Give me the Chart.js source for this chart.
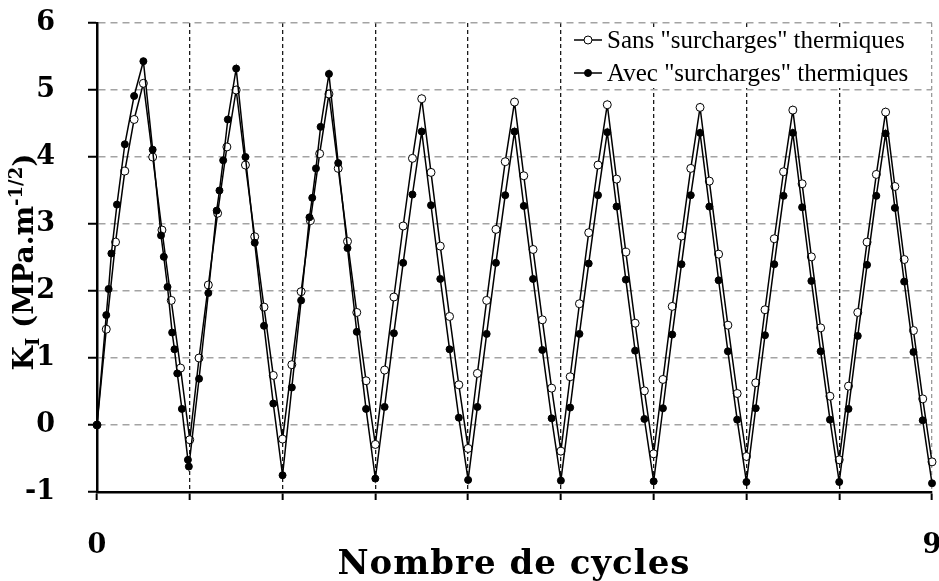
<!DOCTYPE html>
<html>
<head>
<meta charset="utf-8">
<script src="https://cdn.jsdelivr.net/npm/chart.js@4.4.1/dist/chart.umd.min.js"></script>
<style>
  html, body { margin: 0; padding: 0; background: #fff; }
</style>
</head>
<body>
<canvas id="chart" width="939" height="581"></canvas>
<script>
// Sans "surcharges" thermiques (open circles)
const sansX = [
  0, 0.1, 0.2, 0.3, 0.4, 0.5, 0.6, 0.7, 0.8, 0.9,
  1.0, 1.1, 1.2, 1.3, 1.4, 1.5, 1.6, 1.7, 1.8, 1.9,
  2.0, 2.1, 2.2, 2.3, 2.4, 2.5, 2.6, 2.7, 2.8, 2.9,
  3.0, 3.1, 3.2, 3.3, 3.4, 3.5, 3.6, 3.7, 3.8, 3.9,
  4.0, 4.1, 4.2, 4.3, 4.4, 4.5, 4.6, 4.7, 4.8, 4.9,
  5.0, 5.1, 5.2, 5.3, 5.4, 5.5, 5.6, 5.7, 5.8, 5.9,
  6.0, 6.1, 6.2, 6.3, 6.4, 6.5, 6.6, 6.7, 6.8, 6.9,
  7.0, 7.1, 7.2, 7.3, 7.4, 7.5, 7.6, 7.7, 7.8, 7.9,
  8.0, 8.1, 8.2, 8.3, 8.4, 8.5, 8.6, 8.7, 8.8, 8.9,
  9.0
];
const sansY = [
  0, 1.43, 2.73, 3.79, 4.56, 5.10, 4.00, 2.91, 1.86, 0.85,
  -0.22, 1.00, 2.09, 3.16, 4.15, 5.00, 3.88, 2.81, 1.76, 0.74,
  -0.21, 0.90, 1.99, 3.05, 4.05, 4.94, 3.83, 2.74, 1.68, 0.66,
  -0.29, 0.82, 1.91, 2.97, 3.98, 4.87, 3.77, 2.67, 1.62, 0.60,
  -0.35, 0.77, 1.86, 2.92, 3.93, 4.82, 3.72, 2.62, 1.57, 0.55,
  -0.39, 0.72, 1.81, 2.87, 3.88, 4.78, 3.67, 2.58, 1.52, 0.51,
  -0.43, 0.68, 1.77, 2.82, 3.83, 4.74, 3.64, 2.55, 1.49, 0.47,
  -0.47, 0.63, 1.72, 2.78, 3.78, 4.70, 3.60, 2.51, 1.45, 0.43,
  -0.52, 0.58, 1.68, 2.73, 3.74, 4.67, 3.56, 2.47, 1.41, 0.39,
  -0.55
];

// Avec "surcharges" thermiques (filled circles)
const avecX = [
  0, 0.1, 0.125, 0.155, 0.215, 0.3, 0.4, 0.5, 0.6, 0.69,
  0.72, 0.76, 0.81, 0.835, 0.865, 0.915, 0.98, 0.99,
  1.1, 1.2, 1.29, 1.32, 1.36, 1.41, 1.5, 1.6, 1.7, 1.8, 1.9, 2.0,
  2.1, 2.2, 2.29, 2.32, 2.36, 2.41, 2.5, 2.6, 2.7, 2.8, 2.9, 3.0,
  3.1, 3.2, 3.3, 3.4, 3.5, 3.6, 3.7, 3.8, 3.9, 4.0,
  4.1, 4.2, 4.3, 4.4, 4.5, 4.6, 4.7, 4.8, 4.9, 5.0,
  5.1, 5.2, 5.3, 5.4, 5.5, 5.6, 5.7, 5.8, 5.9, 6.0,
  6.1, 6.2, 6.3, 6.4, 6.5, 6.6, 6.7, 6.8, 6.9, 7.0,
  7.1, 7.2, 7.3, 7.4, 7.5, 7.6, 7.7, 7.8, 7.9, 8.0,
  8.1, 8.2, 8.3, 8.4, 8.5, 8.6, 8.7, 8.8, 8.9, 9.0
];
const avecY = [
  0, 1.64, 2.03, 2.56, 3.29, 4.19, 4.91, 5.43, 4.11, 2.83,
  2.51, 2.06, 1.38, 1.13, 0.77, 0.24, -0.52, -0.62,
  0.69, 1.97, 3.20, 3.50, 3.95, 4.56, 5.32, 4.00, 2.72, 1.48, 0.32, -0.75,
  0.56, 1.86, 3.10, 3.39, 3.83, 4.45, 5.24, 3.91, 2.64, 1.39, 0.24, -0.80,
  0.27, 1.37, 2.42, 3.44, 4.38, 3.28, 2.18, 1.13, 0.11, -0.82,
  0.27, 1.36, 2.42, 3.43, 4.38, 3.27, 2.18, 1.12, 0.10, -0.83,
  0.26, 1.36, 2.41, 3.43, 4.37, 3.26, 2.17, 1.11, 0.09, -0.84,
  0.25, 1.35, 2.40, 3.43, 4.36, 3.26, 2.16, 1.10, 0.08, -0.85,
  0.25, 1.34, 2.40, 3.42, 4.36, 3.25, 2.15, 1.10, 0.08, -0.85,
  0.24, 1.33, 2.39, 3.42, 4.35, 3.24, 2.14, 1.09, 0.07, -0.87
];

const seriesNames = ['Sans "surcharges" thermiques', 'Avec "surcharges" thermiques'];
const xTickLabels = [0, 9];
const xTitle = 'Nombre de cycles';

const toPoints = (xs, ys) => xs.map((x, i) => ({ x: x, y: ys[i] }));

// legend, axis titles (the y title needs sub/superscripts)
const decor = {
  id: 'decor',
  afterDraw(chart) {
    const ctx = chart.ctx;
    ctx.save();

    // legend box
    ctx.fillStyle = '#fff';
    ctx.fillRect(566, 28, 362, 60);
    ctx.font = '25px "Liberation Serif"';
    ctx.textBaseline = 'middle';
    ctx.textAlign = 'left';
    [40, 73].forEach((ly, i) => {
      ctx.strokeStyle = '#000';
      ctx.lineWidth = 1.5;
      ctx.beginPath();
      ctx.moveTo(574, ly);
      ctx.lineTo(602, ly);
      ctx.stroke();
      ctx.beginPath();
      ctx.arc(588, ly, i === 0 ? 4 : 3.5, 0, Math.PI * 2);
      ctx.fillStyle = i === 0 ? '#fff' : '#000';
      ctx.fill();
      ctx.lineWidth = 1;
      ctx.stroke();
      ctx.fillStyle = '#000';
      ctx.fillText(seriesNames[i], 607, ly + 1);
    });

    // x title
    ctx.font = 'bold 34px "DejaVu Serif"';
    ctx.letterSpacing = '1px';
    ctx.textAlign = 'center';
    ctx.textBaseline = 'alphabetic';
    ctx.fillText(xTitle, 514, 574);
    ctx.letterSpacing = '0px';

    // y title, rotated
    ctx.translate(33, 262);
    ctx.rotate(-Math.PI / 2);
    const parts = [
      { t: 'K', size: 28, dy: 0 },
      { t: 'I', size: 18, dy: 6 },
      { t: ' (MPa.m', size: 28, dy: 0 },
      { t: '-1/2', size: 18, dy: -11 },
      { t: ')', size: 28, dy: 0 }
    ];
    let total = 0;
    parts.forEach(p => {
      ctx.font = 'bold ' + p.size + 'px "DejaVu Serif"';
      p.w = ctx.measureText(p.t).width;
      total += p.w;
    });
    let px = -total / 2;
    ctx.textAlign = 'left';
    parts.forEach(p => {
      ctx.font = 'bold ' + p.size + 'px "DejaVu Serif"';
      ctx.fillText(p.t, px, p.dy);
      px += p.w;
    });
    ctx.restore();
  }
};

const tickFont = { family: 'DejaVu Serif', weight: 'bold', size: 27 };

new Chart(document.getElementById('chart').getContext('2d'), {
  type: 'scatter',
  data: {
    datasets: [
      {
        label: seriesNames[0],
        data: toPoints(sansX, sansY),
        showLine: true,
        borderColor: '#000',
        borderWidth: 1.5,
        pointRadius: 4,
        pointBorderWidth: 1,
        pointBackgroundColor: '#fff',
        pointBorderColor: '#000',
        clip: false,
        order: 2
      },
      {
        label: seriesNames[1],
        data: toPoints(avecX, avecY),
        showLine: true,
        borderColor: '#000',
        borderWidth: 1.5,
        pointRadius: 3.5,
        pointBorderWidth: 1,
        pointBackgroundColor: '#000',
        pointBorderColor: '#000',
        clip: false,
        order: 1
      }
    ]
  },
  options: {
    responsive: false,
    animation: false,
    layout: { autoPadding: false, padding: { left: 0, top: 23, right: 7, bottom: 0 } },
    plugins: { legend: { display: false }, tooltip: { enabled: false } },
    scales: {
      x: {
        type: 'linear',
        min: 0,
        max: 9,
        afterFit: s => {
          s.height = 89;
          s.paddingLeft = 0;
          s.paddingRight = 0;
        },
        ticks: {
          stepSize: 1,
          autoSkip: false,
          maxRotation: 0,
          padding: 30,
          color: '#000',
          font: tickFont,
          callback: v => (xTickLabels.includes(v) ? String(v) : '')
        },
        grid: {
          color: c => (c.tick && c.tick.value === 9 ? '#9a9a9a' : (c.tick && c.tick.value === 0 ? 'rgba(0,0,0,0)' : '#1a1a1a')),
          lineWidth: 1.3,
          tickColor: '#000',
          tickLength: 8,
          tickWidth: 2
        },
        border: { color: '#000', width: 2.5, dash: [4, 3] }
      },
      y: {
        min: -1,
        max: 6,
        afterFit: s => {
          s.width = 97;
          s.paddingTop = 0;
          s.paddingBottom = 0;
        },
        ticks: {
          stepSize: 1,
          padding: 33,
          color: '#000',
          font: tickFont
        },
        grid: {
          color: '#a3a3a3',
          lineWidth: 1.5,
          tickColor: '#000',
          tickLength: 9,
          tickWidth: 2
        },
        border: { color: '#000', width: 2.5, dash: [7, 5] }
      }
    }
  },
  plugins: [decor]
});
</script>
</body>
</html>
